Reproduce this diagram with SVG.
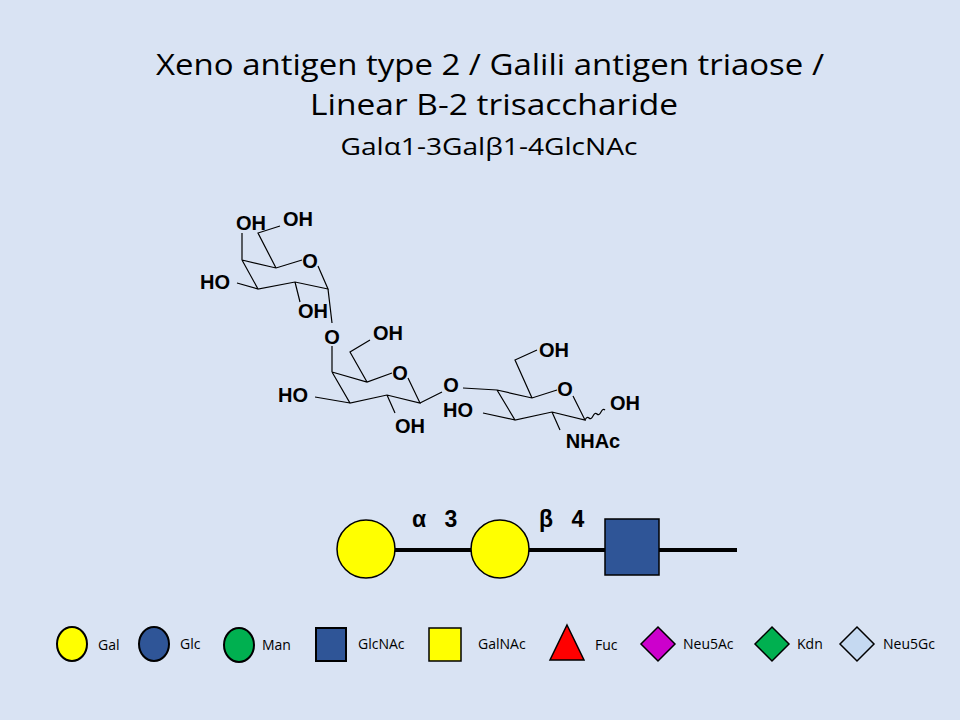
<svg xmlns="http://www.w3.org/2000/svg" width="960" height="720" viewBox="0 0 960 720">
<style>
.t{font-family:"Open Sans","Liberation Sans",sans-serif;fill:#000;text-anchor:middle}
.c{font-family:"Liberation Sans",Arial,sans-serif;font-weight:bold;font-size:20px;fill:#000;text-anchor:middle}
.b{stroke:#000;stroke-width:1.2;fill:none}
.lg{font-family:"Open Sans","Liberation Sans",sans-serif;font-size:14px;fill:#000}
.s{stroke:#000;stroke-width:4}
.k{font-family:"Liberation Sans",Arial,sans-serif;font-weight:bold;font-size:23px;text-anchor:middle}
</style>
<rect width="960" height="720" fill="#d9e3f3"/>
<g id="title">
<text class="t" x="490" y="75" font-size="29" textLength="668" lengthAdjust="spacingAndGlyphs">Xeno antigen type 2 / Galili antigen triaose /</text>
<text class="t" x="494" y="115" font-size="29" textLength="368" lengthAdjust="spacingAndGlyphs">Linear B-2 trisaccharide</text>
<text class="t" x="489" y="155" font-size="23" textLength="297" lengthAdjust="spacingAndGlyphs">Galα1-3Galβ1-4GlcNAc</text>
</g>
<g id="structure">
<path class="b" d="M242,260 L276,268 L302,260 M318,266 L328,289 L295,282 L258,289 L242,260 M276,268 L258,233 L280,226 M242,260 L242,233 M258,289 L237,283 M295,282 L300,302 M328,289 L332,323"/>
<path class="b" d="M332,372 L367,382 L392,373 M408,378 L420,403 L387,395 L350,403 L332,372 M332,346 L332,372 M367,382 L350,352 L370,340 M350,403 L315,397 M387,395 L395,413 M420,403 L442,392"/>
<path class="b" d="M463,388 L497,390 L532,398 L557,390 M573,396 L585,420 L552,412 L515,420 L497,390 M532,398 L515,360 L537,350 M515,420 L483,413 M552,412 L560,430 M585,420 q2,-4 4,-2 q2,2 4,-2 q2,-4 4,-2 q2,2 4,-2 q2,-4 4,-2"/>
<text class="c" x="251" y="230">OH</text>
<text class="c" x="298" y="226">OH</text>
<text class="c" x="310" y="268">O</text>
<text class="c" x="215" y="289">HO</text>
<text class="c" x="313" y="318">OH</text>
<text class="c" x="332" y="344">O</text>
<text class="c" x="388" y="340">OH</text>
<text class="c" x="400" y="380">O</text>
<text class="c" x="293" y="402">HO</text>
<text class="c" x="410" y="433">OH</text>
<text class="c" x="451" y="392">O</text>
<text class="c" x="554" y="357">OH</text>
<text class="c" x="565" y="396">O</text>
<text class="c" x="458" y="417">HO</text>
<text class="c" x="625" y="410">OH</text>
<text class="c" x="593" y="448">NHAc</text>
</g>
<g id="connectors">
<line class="s" x1="395" y1="550" x2="472" y2="550"/>
<line class="s" x1="528" y1="550" x2="605" y2="550"/>
<line class="s" x1="659" y1="550" x2="737" y2="550"/>
<text class="k" x="419" y="527">α</text>
<text class="k" x="451" y="527">3</text>
<text class="k" x="546" y="527">β</text>
<text class="k" x="578" y="527">4</text>
</g>
<g id="gal1"><circle cx="366" cy="549" r="29" fill="#ffff00" stroke="#000" stroke-width="1.5"/></g>
<g id="gal2"><circle cx="500" cy="549" r="29" fill="#ffff00" stroke="#000" stroke-width="1.5"/></g>
<g id="glcnac"><rect x="605" y="519" width="54" height="56" fill="#2f5597" stroke="#000" stroke-width="1.5"/></g>
<g id="legend">
<ellipse cx="72" cy="644" rx="15" ry="17" fill="#ffff00" stroke="#000" stroke-width="2"/>
<text class="lg" x="98" y="650">Gal</text>
<ellipse cx="154" cy="644" rx="15" ry="17" fill="#2f5597" stroke="#000" stroke-width="2"/>
<text class="lg" x="180" y="649">Glc</text>
<ellipse cx="239" cy="645" rx="15" ry="17" fill="#00b050" stroke="#000" stroke-width="2"/>
<text class="lg" x="262" y="650">Man</text>
<rect x="316" y="628" width="30" height="33" fill="#2f5597" stroke="#000" stroke-width="2"/>
<text class="lg" x="358" y="649">GlcNAc</text>
<rect x="429" y="628" width="32" height="33" fill="#ffff00" stroke="#000" stroke-width="1.5"/>
<text class="lg" x="478" y="649">GalNAc</text>
<polygon points="567,625 584,660 550,660" fill="#ff0000" stroke="#000" stroke-width="1.5"/>
<text class="lg" x="595" y="650">Fuc</text>
<polygon points="658,627 675,644 658,661 641,644" fill="#cc00cc" stroke="#000" stroke-width="1.5"/>
<text class="lg" x="683" y="649">Neu5Ac</text>
<polygon points="772,627 789,644 772,661 755,644" fill="#00b050" stroke="#000" stroke-width="1.5"/>
<text class="lg" x="797" y="649">Kdn</text>
<polygon points="857,627 874,644 857,661 840,644" fill="#c5d9f1" stroke="#000" stroke-width="1.5"/>
<text class="lg" x="883" y="649">Neu5Gc</text>
</g>
</svg>
